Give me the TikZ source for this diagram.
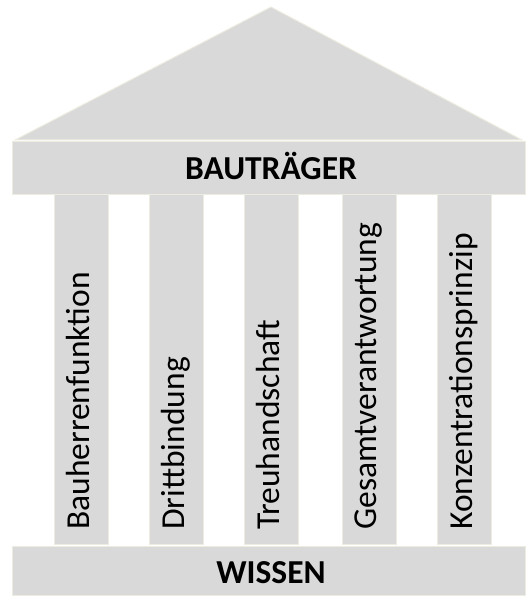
\documentclass[tikz,border=0pt]{standalone}
\usepackage{fontspec}
\setmainfont{Carlito}
\definecolor{greyfill}{HTML}{D9D9D9}
\definecolor{creamline}{HTML}{EEECE1}
\begin{document}
\begin{tikzpicture}[x=1pt,y=1pt,
  part/.style={fill=greyfill,draw=creamline,line width=1pt},
  beam/.style={font=\fontsize{33.5}{38}\selectfont\bfseries,text=black,anchor=base,inner sep=0pt},
  pillartext/.style={font=\fontsize{33.5}{38}\selectfont,text=black,rotate=90,anchor=base west,inner sep=0pt}]
\useasboundingbox (0,0) rectangle (526,597);
% roof
\draw[part] (15,457) -- (271,590) -- (522,457) -- cycle;
% top beam
\draw[part] (12,402) rectangle (525,455);
\node[beam] (top) at (271,417) {BAUTRÄGER};
% pillars
\foreach \x/\n in {54/p1,149/p2,244/p3,342/p4,437/p5}{
  \draw[part] (\x,52) rectangle ++(54,350);
}
\node[pillartext] (t1) at (89.5,67) {Bauherrenfunktion};
\node[pillartext] (t2) at (184.5,67) {Drittbindung};
\node[pillartext] (t3) at (279,67) {Treuhandschaft};
\node[pillartext] (t4) at (376.5,67) {Gesamtverantwortung};
\node[pillartext] (t5) at (472,67) {Konzentrationsprinzip};
% base
\draw[part] (12,1) rectangle (525,50);
\node[beam] (bottom) at (271,13) {WISSEN};
\end{tikzpicture}
\end{document}
